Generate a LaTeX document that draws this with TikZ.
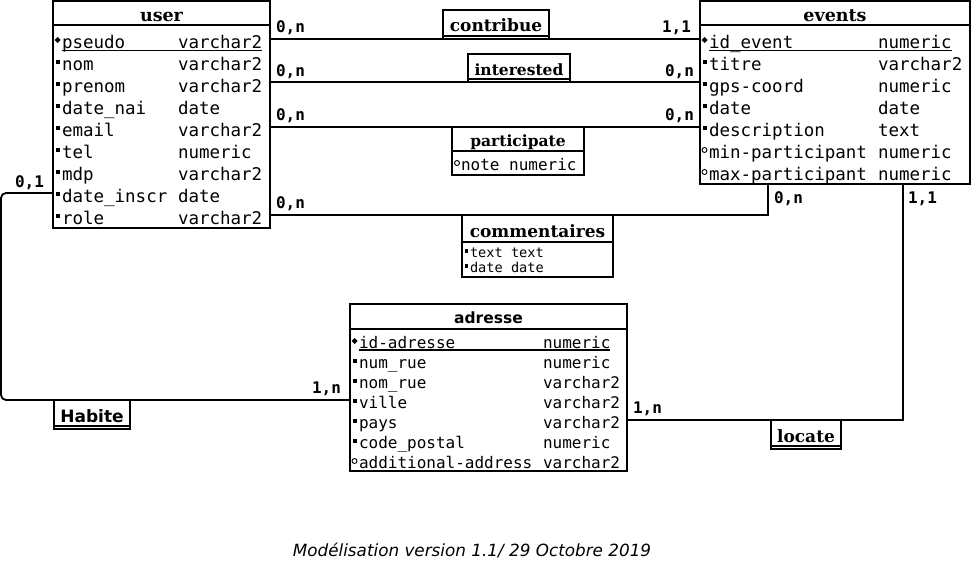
\documentclass[tikz,border=0pt]{standalone}
\usepackage{fontspec}
\usetikzlibrary{shapes.geometric}
\newfontfamily\monof{DejaVu Sans Mono}
\newfontfamily\seriff{DejaVu Serif}
\newfontfamily\sansf{DejaVu Sans}
\newcommand\attL{\monof\fontsize{17.5}{20}\selectfont}
\newcommand\attM{\monof\fontsize{16}{19}\selectfont}
\newcommand\attS{\monof\fontsize{13.6}{15}\selectfont}
\newcommand\cardF{\monof\bfseries\fontsize{16}{19}\selectfont}
\newcommand\hdrSerif[1]{\seriff\bfseries\fontsize{#1}{#1}\selectfont}
\newcommand\hdrSans[1]{\sansf\bfseries\fontsize{#1}{#1}\selectfont}
\newcommand\capF{\sansf\itshape\fontsize{16.8}{19}\selectfont}
\tikzset{
  ent/.style={draw, line width=1.8pt, inner sep=0pt, outer sep=0pt, anchor=north west},
  sep/.style={line width=1.8pt},
  conn/.style={line width=1.8pt},
  uline/.style={line width=1.3pt},
  attr/.style={anchor=base west, inner sep=0pt, outer sep=0pt},
  hdr/.style={anchor=base, inner sep=0pt, outer sep=0pt},
  card/.style={anchor=base west, inner sep=0pt, outer sep=0pt, font=\cardF},
  mkr/.style={inner sep=0pt, outer sep=0pt},
  mkey/.style={shape=diamond, fill=black, minimum width=6pt, minimum height=6pt},
  mman/.style={shape=rectangle, fill=black, minimum width=4pt, minimum height=4.5pt},
  mopt/.style={shape=circle, draw=black, line width=0.9pt, minimum size=5pt},
}
\begin{document}
\begin{tikzpicture}[x=1pt,y=-1pt]
\useasboundingbox[fill=white] (0,0) rectangle (972,562);

% ---------- user ----------
\node[ent, minimum width=217pt, minimum height=227pt] (user) at (53,1) {};
\draw[sep] (53,25) -- (270,25);
\node[hdr, font={\hdrSerif{17.5}}] (userT) at (161.5,21) {user};
\foreach \n/\ty/\m [count=\i] in {pseudo/varchar2/mkey, nom/varchar2/mman, prenom/varchar2/mman, date\_nai/date/mman, email/varchar2/mman, tel/numeric/mman, mdp/varchar2/mman, date\_inscr/date/mman, role/varchar2/mman}{
  \node[mkr,\m] (u-\i-m) at (57.5,{48+22*(\i-1)-8}) {};
  \node[attr, font=\attL] (u-\i-a) at (62,{48+22*(\i-1)}) {\n};
  \node[attr, font=\attL] (u-\i-b) at (178,{48+22*(\i-1)}) {\ty};
}
\draw[uline] ([yshift=-2.5pt]u-1-a.base west) -- ([yshift=-2.5pt]u-1-b.base east);

% ---------- events ----------
\node[ent, minimum width=270pt, minimum height=183pt] (events) at (700,1) {};
\draw[sep] (700,25) -- (970,25);
\node[hdr, font={\hdrSerif{17.5}}] (eventsT) at (835,21) {events};
\foreach \n/\ty/\m [count=\i] in {id\_event/numeric/mkey, titre/varchar2/mman, gps-coord/numeric/mman, date/date/mman, description/text/mman, min-participant/numeric/mopt, max-participant/numeric/mopt}{
  \node[mkr,\m] (e-\i-m) at (704.5,{48+22*(\i-1)-8}) {};
  \node[attr, font=\attL] (e-\i-a) at (709,{48+22*(\i-1)}) {\n};
  \node[attr, font=\attL] (e-\i-b) at (878,{48+22*(\i-1)}) {\ty};
}
\draw[uline] ([yshift=-2.5pt]e-1-a.base west) -- ([yshift=-2.5pt]e-1-b.base east);

% ---------- adresse ----------
\node[ent, minimum width=277pt, minimum height=167pt] (adresse) at (350,304) {};
\draw[sep] (350,329) -- (627,329);
\node[hdr, font={\hdrSans{15.5}}] (adresseT) at (488.5,323.5) {adresse};
\foreach \n/\ty/\m [count=\i] in {id-adresse/numeric/mkey, num\_rue/numeric/mman, nom\_rue/varchar2/mman, ville/varchar2/mman, pays/varchar2/mman, code\_postal/numeric/mman, additional-address/varchar2/mopt}{
  \node[mkr,\m] (a-\i-m) at (354.5,{348+20*(\i-1)-7}) {};
  \node[attr, font=\attM] (a-\i-a) at (359,{348+20*(\i-1)}) {\n};
  \node[attr, font=\attM] (a-\i-b) at (543,{348+20*(\i-1)}) {\ty};
}
\draw[uline] ([yshift=-2pt]a-1-a.base west) -- ([yshift=-2pt]a-1-b.base east);

% ---------- relations ----------
\node[ent, minimum width=106pt, minimum height=29pt] (contribue) at (443,10) {};
\draw[sep] ([yshift=3pt]contribue.south west) -- ([yshift=3pt]contribue.south east);
\node[hdr, font={\hdrSerif{17}}] (contribueT) at (496,31) {contribue};

\node[ent, minimum width=102pt, minimum height=28pt] (interested) at (468,54) {};
\draw[sep] ([yshift=3pt]interested.south west) -- ([yshift=3pt]interested.south east);
\node[hdr, font={\hdrSerif{15.5}}] (interestedT) at (519,75) {interested};

\node[ent, minimum width=132pt, minimum height=48pt] (participate) at (452,127) {};
\draw[sep] (452,151) -- (584,151);
\node[hdr, font={\hdrSerif{15.5}}] (participateT) at (518,146) {participate};
\node[mkr,mopt] (p-1-m) at (457,163) {};
\node[attr, font=\attM] (p-1-a) at (461,170) {note numeric};

\node[ent, minimum width=151pt, minimum height=62pt] (commentaires) at (462,215) {};
\draw[sep] (462,242) -- (613,242);
\node[hdr, font={\hdrSerif{17}}] (commentairesT) at (537.5,237) {commentaires};
\node[mkr,mman,minimum width=3pt,minimum height=3.5pt] (c-1-m) at (466,251) {};
\node[attr, font=\attS] (c-1-a) at (470,257) {text};
\node[attr, font=\attS] (c-1-b) at (511,257) {text};
\node[mkr,mman,minimum width=3pt,minimum height=3.5pt] (c-2-m) at (466,266) {};
\node[attr, font=\attS] (c-2-a) at (470,272) {date};
\node[attr, font=\attS] (c-2-b) at (511,272) {date};

\node[ent, minimum width=76pt, minimum height=29pt] (Habite) at (54,400) {};
\draw[sep] ([yshift=3pt]Habite.south west) -- ([yshift=3pt]Habite.south east);
\node[hdr, font={\hdrSans{17}}] (HabiteT) at (92,422) {Habite};

\node[ent, minimum width=70pt, minimum height=29pt] (locate) at (771,420) {};
\draw[sep] ([yshift=3pt]locate.south west) -- ([yshift=3pt]locate.south east);
\node[hdr, font={\hdrSerif{17}}] (locateT) at (806,442) {locate};

% ---------- connectors ----------
\draw[conn] (user.east |- contribue.south) -- (events.west |- contribue.south);
\draw[conn] (user.east |- interested.south) -- (events.west |- interested.south);
\draw[conn] (user.east |- participate.north) -- (events.west |- participate.north);
\coordinate (cmE) at ([xshift=68pt]events.south west);
\draw[conn] (user.east |- commentaires.north) -| (cmE);
\coordinate (loE) at ([xshift=203pt]events.south west);
\draw[conn] (adresse.east |- locate.north) -| (loE);
\coordinate (hbU) at ([yshift=-192pt]user.north west);
\coordinate (hbA) at (1,193);
\coordinate (hbB) at (1,400);
\draw[conn, rounded corners=5pt] (hbU) -- (hbA) -- (hbB) -- (adresse.west |- Habite.north);

% ---------- cardinalities ----------
\node[card] (k1) at (276,32) {0,n};
\node[card] (k2) at (662,32) {1,1};
\node[card] (k3) at (276,76) {0,n};
\node[card] (k4) at (665,76) {0,n};
\node[card] (k5) at (276,120) {0,n};
\node[card] (k6) at (665,120) {0,n};
\node[card] (k7) at (276,208) {0,n};
\node[card] (k8) at (774,203) {0,n};
\node[card] (k9) at (908,203) {1,1};
\node[card] (k10) at (15,187) {0,1};
\node[card] (k11) at (312,393) {1,n};
\node[card] (k12) at (633,413) {1,n};

% ---------- caption ----------
\node[hdr, font=\capF] (caption) at (472,556) {Modélisation version 1.1/ 29 Octobre 2019};
\end{tikzpicture}
\end{document}
